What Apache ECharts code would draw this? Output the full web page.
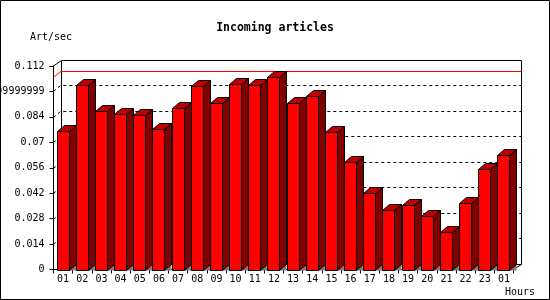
<!DOCTYPE html>
<html>
<head>
<meta charset="utf-8">
<script src="https://cdn.jsdelivr.net/npm/echarts@6/dist/echarts.min.js"></script>
<style>
html,body{margin:0;padding:0;background:#fff;}
#chart{width:550px;height:300px;}
</style>
</head>
<body>
<div id="chart"></div>
<script>
// ---- data ----
const hours = ['01','02','03','04','05','06','07','08','09','10','11','12',
               '13','14','15','16','17','18','19','20','21','22','23','01'];
const artPerSec = [0.0762,0.1015,0.0871,0.0854,0.0848,0.0772,0.0887,0.1008,
                   0.0915,0.1019,0.1014,0.1058,0.0915,0.0953,0.0755,0.0590,
                   0.0419,0.0326,0.0353,0.0293,0.0208,0.0364,0.0551,0.0629];
const maxLine = 0.106;
const yTickValues = [0,0.014,0.028,0.042,0.056,0.07,0.084,0.098,0.112];
const yTickLabels = ['0','0.014','0.028','0.042','0.056','0.07','0.084','0.09799999999999999','0.112'];
const titleText = 'Incoming articles';
const yName = 'Art/sec';
const xName = 'Hours';

// ---- style ----
const DX = 7, DY = 6;
const FONT = 'DejaVu Sans Mono';

const chart = echarts.init(document.getElementById('chart'), null, {renderer:'canvas'});

function frameRender(params, api) {
  const cs = params.coordSys;
  const x = cs.x, y = cs.y, w = cs.width, h = cs.height;
  const children = [];
  const bx = Math.round(x + DX) + 0.5, by = Math.round(y - DY) + 0.5;
  const bw = Math.round(w), bh = Math.round(h);
  // back wall
  children.push({type:'rect', shape:{x:bx, y:by, width:bw, height:bh},
    style:{fill:'#fff', stroke:'#000', lineWidth:1}});
  // left wall top diagonal
  children.push({type:'line', shape:{x1:x, y1:y, x2:bx, y2:by},
    style:{stroke:'#000', lineWidth:1}});
  // floor edge right
  children.push({type:'line', shape:{x1:x + w, y1:y + h, x2:bx + bw, y2:by + bh},
    style:{stroke:'#000', lineWidth:1}});
  // gridlines
  for (let k = 1; k < yTickValues.length - 1; k++) {
    const py = Math.round(api.coord([0, yTickValues[k]])[1]) + 0.5;
    children.push({type:'polyline', shape:{points:[[x, py],[x + DX, py - DY],[bx + bw, py - DY]]},
      style:{stroke:'#000', lineWidth:1, lineDash:[3,3], fill:null}});
  }
  // red max line
  const ry = Math.round(api.coord([0, maxLine])[1]) + 0.5;
  children.push({type:'polyline', shape:{points:[[x, ry],[x + DX, ry - DY],[bx + bw, ry - DY]]},
    style:{stroke:'#ff0000', lineWidth:1, fill:null}});
  return {type:'group', children};
}

function barRender(params, api) {
  const i = api.value(0), v = api.value(1);
  const top = api.coord([i, v]);
  const base = api.coord([i, 0]);
  const band = api.size([1, 0])[0];
  const fw = Math.round(band * 0.63);
  const x0 = Math.round(top[0] - fw / 2 - 0.5) + 0.5;
  const x1 = x0 + fw;
  const yT = Math.round(top[1]) + 0.5;
  const yB = Math.round(base[1]) + 0.5;
  return {type:'group', children:[
    {type:'polygon', shape:{points:[[x1, yB],[x1 + DX, yB - DY],[x1 + DX, yB]]},
      style:{fill:'#808080', stroke:null}},
    {type:'polygon', shape:{points:[[x1, yT],[x1 + DX, yT - DY],[x1 + DX, yB - DY],[x1, yB]]},
      style:{fill:'#800000', stroke:'#000', lineWidth:1}},
    {type:'polygon', shape:{points:[[x0, yT],[x0 + DX, yT - DY],[x1 + DX, yT - DY],[x1, yT]]},
      style:{fill:'#c00000', stroke:'#000', lineWidth:1}},
    {type:'rect', shape:{x:x0, y:yT, width:fw, height:yB - yT},
      style:{fill:'#ff0000', stroke:'#000', lineWidth:1}}
  ]};
}

chart.setOption({
  animation: false,
  backgroundColor: '#fff',
  title: {
    text: titleText, left: 'center', top: 17,
    textStyle: {fontFamily: FONT, fontWeight: 'bold', fontSize: 11.5, color: '#000'}
  },
  grid: {left: 53.5, top: 66, width: 460, height: 203.5, containLabel: false, outerBoundsMode: 'none'},
  xAxis: {
    type: 'category', data: hours,
    axisLine: {show: true, lineStyle: {color: '#000', width: 1}},
    axisTick: {show: true, length: 4, lineStyle: {color: '#000'}},
    axisLabel: {color: '#000', fontFamily: FONT, fontSize: 10, margin: 5, interval: 0},
    splitLine: {show: false}
  },
  yAxis: {
    type: 'value', min: 0, max: 0.112, interval: 0.014,
    axisLine: {show: true, lineStyle: {color: '#000', width: 1}},
    axisTick: {show: true, length: 4, lineStyle: {color: '#000'}},
    axisLabel: {color: '#000', fontFamily: FONT, fontSize: 10, margin: 9,
      formatter: function (val) { return yTickLabels[Math.round(val / 0.014)]; }},
    splitLine: {show: false}
  },
  graphic: [
    {type:'rect', shape:{x:0.5, y:0.5, width:549, height:299}, style:{fill:null, stroke:'#000', lineWidth:1}, z:100},
    {type:'text', left: 30, top: 32, style:{text: yName, fill:'#000', font: '10px "DejaVu Sans Mono"'}},
    {type:'text', left: 505, top: 287, style:{text: xName, fill:'#000', font: '10px "DejaVu Sans Mono"'}}
  ],
  series: [
    {type:'custom', coordinateSystem:'cartesian2d', data:[[0, 0]], renderItem: frameRender, z:1, silent:true},
    {type:'custom', coordinateSystem:'cartesian2d',
      data: artPerSec.map((v, i) => [i, v]), renderItem: barRender, z:2, silent:true}
  ]
});
</script>
</body>
</html>
